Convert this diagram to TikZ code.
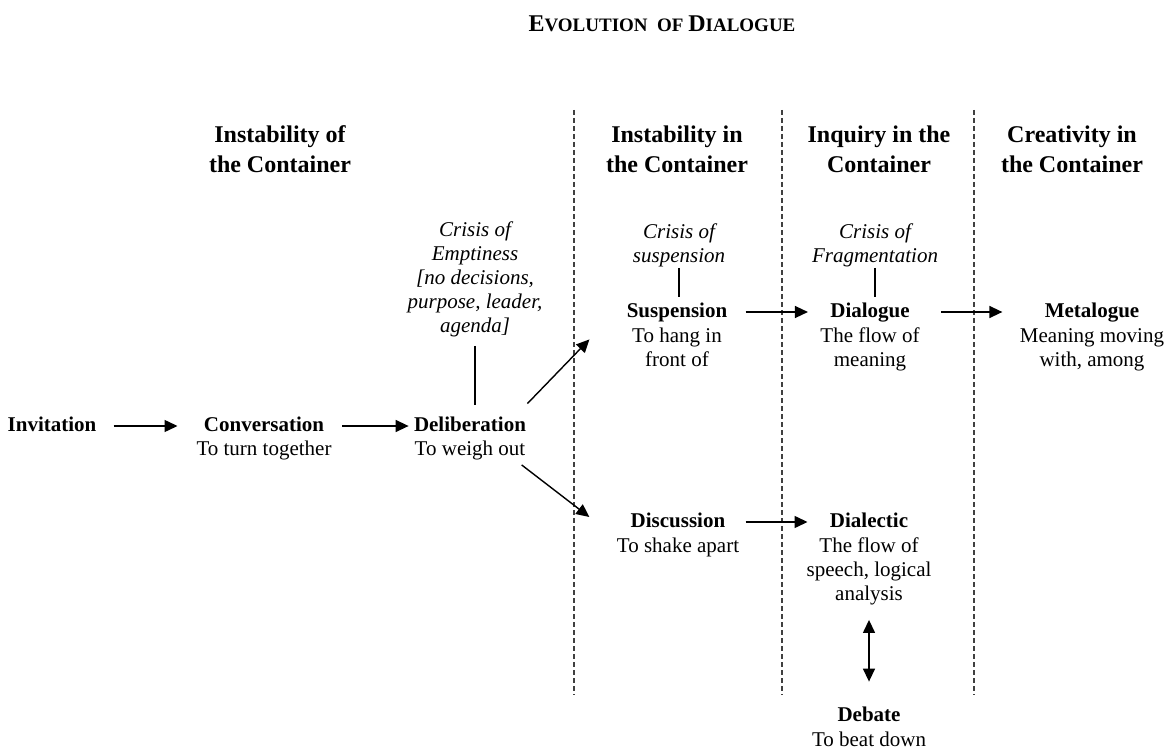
\documentclass[tikz,border=0pt]{standalone}
\usepackage{fontspec}
\setmainfont{Liberation Serif}
\usetikzlibrary{arrows.meta}

\begin{document}
\begin{tikzpicture}[x=0.5pt,y=-0.5pt,
    term/.style={font=\bfseries\fontsize{10.5}{12}\selectfont, inner sep=0pt, text height=7pt, text depth=2pt, anchor=base},
    desc/.style={font=\fontsize{10.5}{12}\selectfont, align=center, inner sep=0pt, anchor=base},
    crisis/.style={font=\itshape\fontsize{10.5}{12}\selectfont, align=center, inner sep=0pt, anchor=base},
    colhead/.style={font=\bfseries\fontsize{12}{14.5}\selectfont, align=center, inner sep=0pt, anchor=base},
    arr/.style={-{Triangle[length=6.5pt,width=6pt]}, line width=0.7pt},
    dblarr/.style={{Triangle[length=6.5pt,width=6pt]}-{Triangle[length=6.5pt,width=6pt]}, line width=0.7pt},
    tie/.style={line width=0.7pt},
    divider/.style={dash pattern=on 2.5pt off 1.5pt, line width=0.6pt, black!75}]

\useasboundingbox (0,0) rectangle (1168,749);

% 标题
\node[inner sep=0pt, anchor=base, font=\bfseries] (title) at (662,32) {{\fontsize{12}{14}\selectfont E}{\fontsize{9.5}{14}\selectfont VOLUTION\ \ OF }{\fontsize{12}{14}\selectfont D}{\fontsize{9.5}{14}\selectfont IALOGUE}};

% 分隔线
\foreach \x in {574,782,974}
    \draw[divider] (\x,110) -- (\x,695);

% 多行节点: 坐标为末行基线
\node[colhead] (h1) at (280,172) {Instability of\\the Container};
\node[colhead] (h2) at (677,172) {Instability in\\the Container};
\node[colhead] (h3) at (879,172) {Inquiry in the\\Container};
\node[colhead] (h4) at (1072,172) {Creativity in\\the Container};

\node[crisis] (emp) at (475,332) {Crisis of\\Emptiness\\{[}no decisions,\\purpose, leader,\\agenda{]}};
\node[crisis] (suspc) at (679,262) {Crisis of\\suspension};
\node[crisis] (fragc) at (875,262) {Crisis of\\Fragmentation};

\node[term] (inv) at (52,431) {Invitation};
\node[term] (conv) at (264,431) {Conversation};
\node[desc] (conv-d) at (264,455) {To turn together};
\node[term] (delib) at (470,431) {Deliberation};
\node[desc] (delib-d) at (470,455) {To weigh out};
\node[term] (susp) at (677,317) {Suspension};
\node[desc] (susp-d) at (677,366) {To hang in\\front of};
\node[term] (dlg) at (870,317) {Dialogue};
\node[desc] (dlg-d) at (870,366) {The flow of\\meaning};
\node[term] (meta) at (1092,317) {Metalogue};
\node[desc] (meta-d) at (1092,366) {Meaning moving\\with, among};
\node[term] (disc) at (678,527) {Discussion};
\node[desc] (disc-d) at (678,552) {To shake apart};
\node[term] (dlc) at (869,527) {Dialectic};
\node[desc] (dlc-d) at (869,600) {The flow of\\speech, logical\\analysis};
\node[term] (deb) at (869,721) {Debate};
\node[desc] (deb-d) at (869,746) {To beat down};

% 箭头
\draw[arr, shorten <=8.5pt, shorten >=13pt] (inv) -- (conv);
\draw[arr, shorten <=9pt, shorten >=2.5pt] (conv) -- (delib);
\draw[arr] ([shift={(1,-13)}]delib.north east) -- ([shift={(-37,18)}]susp.south west);
\draw[arr] ([shift={(-4,5)}]delib-d.south east) -- ([shift={(-41,-5)}]disc.west);
\draw[arr, shorten <=9pt, shorten >=11pt] (susp) -- (dlg);
\draw[arr, shorten <=15.5pt, shorten >=21pt] (dlg) -- (meta);
\draw[arr, shorten <=10pt, shorten >=11pt] (disc) -- (dlc);
\draw[dblarr, shorten <=7.5pt, shorten >=12.5pt] (dlc-d) -- (deb);

\draw[tie, shorten <=4.5pt, shorten >=6pt] (emp.south) -- (emp.south |- delib.north);
\draw[tie, shorten <=0.5pt, shorten >=3pt] (suspc.south) -- (suspc.south |- susp.north);
\draw[tie, shorten <=0.5pt, shorten >=3pt] (fragc.south) -- (fragc.south |- dlg.north);
\end{tikzpicture}
\end{document}
